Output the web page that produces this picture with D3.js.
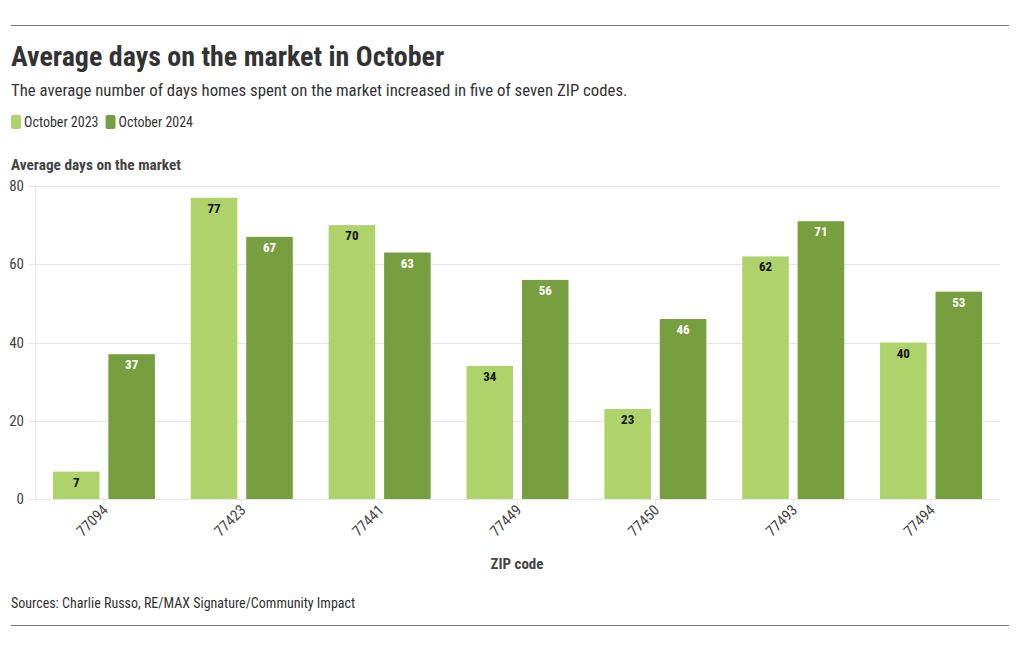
<!DOCTYPE html>
<html><head><meta charset="utf-8">
<script src="https://cdn.jsdelivr.net/npm/d3@7"></script>
<style>
body{margin:0;background:#fff;}
text{font-family:"Roboto Condensed","Liberation Sans Narrow","Roboto",sans-serif;}
</style></head>
<body><svg id="c" width="1020" height="650"></svg>
<script>
const categories = ["77094","77423","77441","77449","77450","77493","77494"];
const seriesNames = ["October 2023","October 2024"];
const oct2023 = [7,77,70,34,23,62,40];
const oct2024 = [37,67,63,56,46,71,53];
const yTicks = [0,20,40,60,80];
const colors = ["#aed36a","#789f3f"];
const labelColors = ["#111","#fff"];

const svg = d3.select("#c");
svg.append("line").attr("x1",11).attr("x2",1009).attr("y1",25.5).attr("y2",25.5).attr("stroke","#777").attr("stroke-width",1);
svg.append("line").attr("x1",11).attr("x2",1009).attr("y1",625.5).attr("y2",625.5).attr("stroke","#777").attr("stroke-width",1);
svg.append("text").attr("x",11).attr("y",66).attr("font-size",28).attr("font-weight","bold").attr("fill","#333").text("Average days on the market in October");
svg.append("text").attr("x",11).attr("y",96).attr("font-size",16.8).attr("fill","#333").text("The average number of days homes spent on the market increased in five of seven ZIP codes.");
// legend
let lx = 11;
seriesNames.forEach((n,i)=>{
  svg.append("rect").attr("x",lx).attr("y",115).attr("width",10).attr("height",14).attr("rx",2).attr("fill",colors[i]);
  const t = svg.append("text").attr("x",lx+13).attr("y",127).attr("font-size",14).attr("fill","#333").text(n);
  lx += 13 + t.node().getComputedTextLength() + 7;
});
svg.append("text").attr("x",11).attr("y",170).attr("font-size",15.3).attr("font-weight","bold").attr("fill","#444").text("Average days on the market");

const x0 = d3.scaleBand().domain(categories).range([35,1000]).paddingInner(0.26).paddingOuter(0.13);
const x1 = d3.scaleBand().domain([0,1]).range([0,x0.bandwidth()]).paddingInner(0.16).paddingOuter(0);
const y = d3.scaleLinear().domain([0,80]).range([499,186]);

// grid
svg.append("g").selectAll("line").data(yTicks).join("line")
  .attr("x1",29).attr("x2",1000).attr("y1",d=>Math.round(y(d))+0.5).attr("y2",d=>Math.round(y(d))+0.5)
  .attr("stroke","#e6e6e6");
svg.append("line").attr("x1",35.5).attr("x2",35.5).attr("y1",186).attr("y2",499).attr("stroke","#e6e6e6");
svg.append("g").selectAll("text").data(yTicks).join("text")
  .attr("x",24).attr("y",d=>y(d)+5).attr("text-anchor","end").attr("font-size",15).attr("fill","#444").text(d=>d);

const vals = [oct2023, oct2024];
const g = svg.append("g");
categories.forEach((c,ci)=>{
  [0,1].forEach(si=>{
    const v = vals[si][ci];
    const bx = x0(c)+x1(si);
    g.append("rect").attr("x",bx).attr("y",y(v)).attr("width",x1.bandwidth()).attr("height",y(0)-y(v)).attr("fill",colors[si]);
    g.append("text").attr("x",bx+x1.bandwidth()/2).attr("y",y(v)+15).attr("text-anchor","middle")
      .attr("font-size",13).attr("font-weight","bold").attr("fill",labelColors[si]).text(v);
  });
});
// x axis ticks and labels
categories.forEach(c=>{
  const cx = x0(c)+x0.bandwidth()/2;
  svg.append("line").attr("x1",cx).attr("x2",cx).attr("y1",499).attr("y2",505).attr("stroke","#e6e6e6");
  svg.append("text").attr("transform",`translate(${cx+5},${511}) rotate(-45)`).attr("text-anchor","end")
    .attr("font-size",15).attr("fill","#444").text(c);
});
svg.append("text").attr("x",517).attr("y",569).attr("text-anchor","middle").attr("font-size",15).attr("font-weight","bold").attr("fill","#444").text("ZIP code");
svg.append("text").attr("x",11).attr("y",608).attr("font-size",14).attr("fill","#333").text("Sources: Charlie Russo, RE/MAX Signature/Community Impact");
</script></body></html>
